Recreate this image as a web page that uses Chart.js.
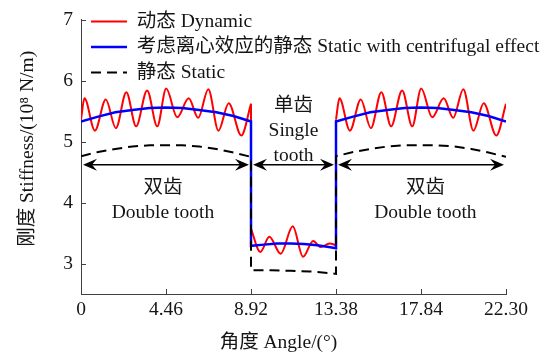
<!DOCTYPE html>
<html>
<head>
<meta charset="utf-8">
<script src="https://cdn.jsdelivr.net/npm/chart.js@4/dist/chart.umd.min.js"></script>
<style>
html, body { margin: 0; padding: 0; background: #fff; }
canvas { display: block; }
</style>
</head>
<body>
<canvas id="chart" width="558" height="356"></canvas>
<script>
// Gear mesh stiffness over one engagement cycle: angle in degrees, stiffness in 1e8 N/m.

const xTickValues = [0, 4.46, 8.92, 13.38, 17.84, 22.30];
const xTickLabels = ['0', '4.46', '8.92', '13.38', '17.84', '22.30'];
const yTickValues = [3, 4, 5, 6, 7];
const yTickLabels = ['3', '4', '5', '6', '7'];

const seriesNames = ['动态 Dynamic', '考虑离心效应的静态 Static with centrifugal effect', '静态 Static'];
const xTitle = '角度 Angle/(°)';
const yTitle = '刚度 Stiffness/(10⁸ N/m)';

// Dynamic stiffness, one array per meshing zone (double / single / double)
const dynDouble1X = [0, 0.18, 0.73, 1.30, 1.83, 2.38, 2.89, 3.47, 4.00, 4.47, 5.05, 5.65, 6.15, 6.68, 7.21, 7.75, 8.41, 8.92];
const dynDouble1Y = [5.36, 5.71, 5.18, 5.69, 5.22, 5.81, 5.25, 5.84, 5.25, 5.87, 5.40, 5.71, 5.39, 5.86, 5.18, 5.63, 5.10, 5.62];
const dynSingleX = [8.92, 9.41, 9.88, 10.48, 11.11, 11.65, 12.18, 12.58, 13.04, 13.38];
const dynSingleY = [3.57, 3.19, 3.44, 3.16, 3.61, 3.11, 3.37, 3.27, 3.33, 3.30];
const dynDouble2X = [13.38, 13.56, 14.11, 14.68, 15.21, 15.76, 16.27, 16.85, 17.38, 17.85, 18.43, 19.03, 19.53, 20.06, 20.59, 21.13, 21.79, 22.30];
const dynDouble2Y = [5.36, 5.71, 5.18, 5.69, 5.22, 5.81, 5.25, 5.84, 5.25, 5.87, 5.40, 5.71, 5.39, 5.86, 5.18, 5.63, 5.10, 5.62];

// Static stiffness including the centrifugal effect
const centX = [0, 0.9, 1.8, 2.7, 3.6, 4.46, 5.3, 6.2, 7.1, 8.0, 8.92,
               8.92, 9.6, 10.3, 11.0, 11.7, 12.4, 13.0, 13.38,
               13.38, 14.28, 15.18, 16.08, 16.98, 17.84, 18.68, 19.58, 20.48, 21.38, 22.30];
const centY = [5.33, 5.41, 5.48, 5.52, 5.55, 5.56, 5.55, 5.52, 5.48, 5.42, 5.33,
               3.29, 3.31, 3.33, 3.33, 3.32, 3.30, 3.27, 3.25,
               5.33, 5.41, 5.48, 5.52, 5.55, 5.56, 5.55, 5.52, 5.48, 5.42, 5.33];

// Static stiffness
const staticX = [0, 0.9, 1.8, 2.7, 3.6, 4.46, 5.3, 6.2, 7.1, 8.0, 8.92,
                 8.92, 10.0, 11.0, 12.0, 12.8, 13.38,
                 13.38, 14.28, 15.18, 16.08, 16.98, 17.84, 18.68, 19.58, 20.48, 21.38, 22.30];
const staticY = [4.76, 4.83, 4.88, 4.92, 4.94, 4.94, 4.94, 4.92, 4.88, 4.82, 4.75,
                 2.89, 2.89, 2.88, 2.87, 2.85, 2.83,
                 4.76, 4.83, 4.88, 4.92, 4.94, 4.94, 4.94, 4.92, 4.88, 4.82, 4.75];

// Meshing zones: span, arrow level, label lines and label anchor
const zoneSpans = [[0, 8.92], [8.92, 13.38], [13.38, 22.30]];
const arrowLevel = 4.62;
const zoneLines = [['双齿', 'Double tooth'], ['单齿', 'Single', 'tooth'], ['双齿', 'Double tooth']];
const zoneLabelX = [4.30, 11.15, 18.07];
const zoneLabelY = [4.15, 5.50, 4.15];

const FONT_FAMILY = "'Liberation Serif', 'Times New Roman', 'Noto Sans CJK SC', serif";
const FONT_SIZE = 19.5;
const TEXT_COLOR = '#151515';
const AXIS_COLOR = '#404040';
const RED = '#ff0000';
const BLUE = '#0000ff';

const pts = (xs, ys) => xs.map((v, i) => ({ x: v, y: ys[i] }));
const last = (a) => a[a.length - 1];

// red vertical jumps between zones (mostly hidden beneath the blue line)
const dynJumps = [
  { x: last(dynDouble1X), y: last(dynDouble1Y) },
  { x: dynSingleX[0], y: dynSingleY[0] },
  { x: dynSingleX[0], y: null },
  { x: last(dynSingleX), y: last(dynSingleY) },
  { x: dynDouble2X[0], y: dynDouble2Y[0] }
];

Chart.defaults.font.family = FONT_FAMILY;
Chart.defaults.font.size = FONT_SIZE;
Chart.defaults.color = TEXT_COLOR;

const redStyle = {
  borderColor: RED, backgroundColor: RED, borderWidth: 2,
  cubicInterpolationMode: 'monotone', pointRadius: 0, order: 3
};

function arrowHead(ctx, tx, ty, dir) {
  ctx.beginPath();
  ctx.moveTo(tx, ty);
  ctx.lineTo(tx - dir * 14, ty - 6);
  ctx.lineTo(tx - dir * 9, ty);
  ctx.lineTo(tx - dir * 14, ty + 6);
  ctx.closePath();
  ctx.fill();
}

// Zone arrows and zone captions
const zonePlugin = {
  id: 'zones',
  afterDatasetsDraw(chart) {
    const { ctx, scales: { x, y } } = chart;
    ctx.save();
    const ya = y.getPixelForValue(arrowLevel);
    ctx.strokeStyle = '#000';
    ctx.fillStyle = '#000';
    ctx.lineWidth = 1.5;
    zoneSpans.forEach(([a, b]) => {
      const x0 = x.getPixelForValue(a) + 2;
      const x1 = x.getPixelForValue(b) - 2;
      ctx.beginPath();
      ctx.moveTo(x0 + 8, ya);
      ctx.lineTo(x1 - 8, ya);
      ctx.stroke();
      arrowHead(ctx, x0, ya, -1);
      arrowHead(ctx, x1, ya, 1);
    });
    ctx.fillStyle = TEXT_COLOR;
    ctx.font = FONT_SIZE + 'px ' + FONT_FAMILY;
    ctx.textAlign = 'center';
    ctx.textBaseline = 'alphabetic';
    zoneLines.forEach((lines, i) => {
      const lx = x.getPixelForValue(zoneLabelX[i]);
      const ly = y.getPixelForValue(zoneLabelY[i]);
      lines.forEach((t, k) => ctx.fillText(t, lx, ly + k * 24.7));
    });
    ctx.restore();
  }
};

// Legend placement, inward tick marks and axis titles
const axisPlugin = {
  id: 'axisDecor',
  afterLayout(chart) {
    const ca = chart.chartArea;
    const lg = chart.legend;
    if (lg) {
      lg.left = ca.left + 4;
      lg.top = ca.top - 14;
      lg.right = chart.width;
      lg.width = lg.right - lg.left;
      lg.bottom = lg.top + 90;
      lg.height = 90;
    }
  },
  afterDraw(chart) {
    const { ctx, chartArea: ca, scales: { x, y } } = chart;
    ctx.save();
    ctx.strokeStyle = AXIS_COLOR;
    ctx.lineWidth = 1;
    ctx.beginPath();
    x.ticks.forEach(t => {
      const px = Math.round(x.getPixelForValue(t.value)) + 0.5;
      ctx.moveTo(px, ca.bottom);
      ctx.lineTo(px, ca.bottom - 5);
    });
    y.ticks.forEach(t => {
      const py = Math.round(y.getPixelForValue(t.value)) + 0.5;
      ctx.moveTo(ca.left, py);
      ctx.lineTo(ca.left + 5, py);
    });
    ctx.stroke();

    ctx.fillStyle = TEXT_COLOR;
    ctx.font = FONT_SIZE + 'px ' + FONT_FAMILY;
    ctx.textAlign = 'center';
    ctx.textBaseline = 'alphabetic';
    ctx.fillText(xTitle, (ca.left + ca.right) / 2 - 15, ca.bottom + 54);
    ctx.translate(33, (ca.top + ca.bottom) / 2 - 8);
    ctx.rotate(-Math.PI / 2);
    ctx.fillText(yTitle, 0, 0);
    ctx.restore();
  }
};

const baseLabels = Chart.defaults.plugins.legend.labels.generateLabels;

new Chart(document.getElementById('chart'), {
  type: 'line',
  data: {
    datasets: [
      Object.assign({ label: seriesNames[0], data: pts(dynDouble1X, dynDouble1Y) }, redStyle),
      {
        label: seriesNames[1], data: pts(centX, centY),
        borderColor: BLUE, backgroundColor: BLUE, borderWidth: 2.5,
        tension: 0, pointRadius: 0, order: 2
      },
      {
        label: seriesNames[2], data: pts(staticX, staticY),
        borderColor: '#000', backgroundColor: '#000', borderWidth: 2,
        borderDash: [10, 6], tension: 0, pointRadius: 0, order: 1
      },
      Object.assign({ label: 'single', data: pts(dynSingleX, dynSingleY) }, redStyle),
      Object.assign({ label: 'double2', data: pts(dynDouble2X, dynDouble2Y) }, redStyle),
      Object.assign({}, redStyle, { label: 'jumps', data: dynJumps, cubicInterpolationMode: 'default', tension: 0 })
    ]
  },
  options: {
    responsive: false,
    animation: false,
    events: [],
    layout: { padding: { left: 0, right: 52, top: 15, bottom: 0 } },
    plugins: {
      tooltip: { enabled: false },
      title: { display: false },
      legend: {
        position: 'chartArea',
        align: 'start',
        labels: {
          usePointStyle: true,
          pointStyle: 'line',
          pointStyleWidth: 36,
          padding: 6,
          color: TEXT_COLOR,
          font: { size: FONT_SIZE, family: FONT_FAMILY },
          generateLabels: (chart) => baseLabels(chart).map(item => {
            const ds = chart.data.datasets[item.datasetIndex];
            item.lineDash = ds.borderDash || [];
            item.lineWidth = ds.borderWidth;
            item.strokeStyle = ds.borderColor;
            return item;
          }),
          filter: (item) => item.datasetIndex < 3,
          sort: (a, b) => a.datasetIndex - b.datasetIndex
        }
      }
    },
    scales: {
      x: {
        type: 'linear',
        min: 0,
        max: 22.30,
        afterBuildTicks: (s) => { s.ticks = xTickValues.map(v => ({ value: v })); },
        afterFit: (s) => { s.height = 62; },
        grid: { display: false, drawTicks: false },
        border: { display: true, color: AXIS_COLOR, width: 1 },
        ticks: {
          autoSkip: false, maxRotation: 0, padding: 4, color: TEXT_COLOR,
          callback: (v, i) => xTickLabels[i]
        }
      },
      y: {
        type: 'linear',
        min: 2.5,
        max: 7,
        afterBuildTicks: (s) => { s.ticks = yTickValues.map(v => ({ value: v })); },
        afterFit: (s) => { s.width = 81; },
        grid: { display: false, drawTicks: false },
        border: { display: true, color: AXIS_COLOR, width: 1 },
        ticks: {
          padding: 8, color: TEXT_COLOR,
          callback: (v, i) => yTickLabels[i]
        }
      }
    }
  },
  plugins: [zonePlugin, axisPlugin]
});
</script>
</body>
</html>
